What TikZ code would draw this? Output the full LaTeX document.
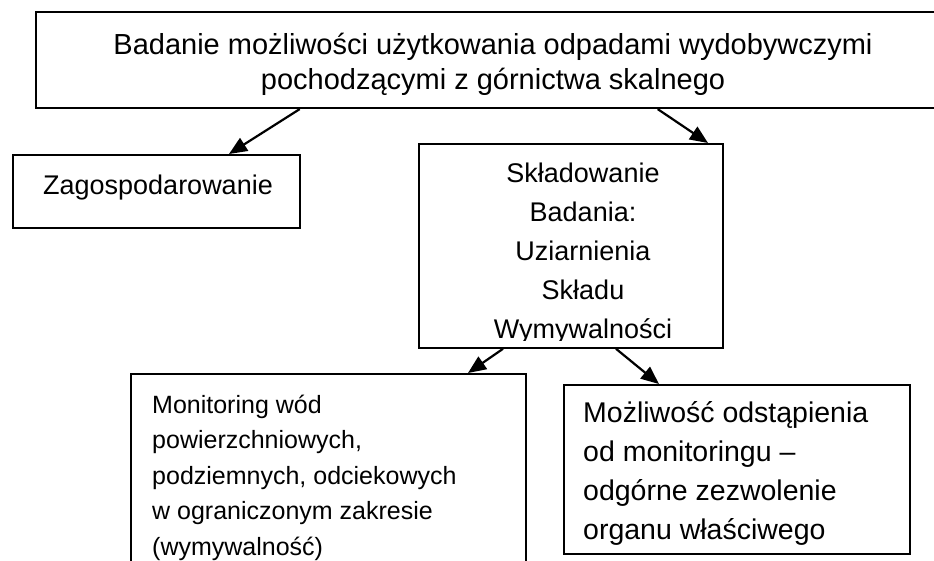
\documentclass[tikz,border=0pt]{standalone}
\usepackage{fontspec}
\setmainfont{Liberation Sans}
\usetikzlibrary{arrows.meta}
\begin{document}
\begin{tikzpicture}[x=1pt,y=-1pt,
  box/.style={draw,line width=1.8pt,rectangle,inner sep=0pt,anchor=north west},
  txt/.style={inner sep=0pt,anchor=base},
  ltxt/.style={inner sep=0pt,anchor=base west},
  arr/.style={line width=2.2pt,-{Triangle[length=18pt,width=15pt]}}]
\useasboundingbox (0,0) rectangle (934,560);
\clip (0,0) rectangle (934,560);
% boxes
\node[box,minimum width=930pt,minimum height=96pt] (top) at (34.7,11.3) {};
\node[box,minimum width=287pt,minimum height=73pt] (zag) at (12,154) {};
\node[box,minimum width=304pt,minimum height=204pt] (mid) at (418,143) {};
\node[box,minimum width=395pt,minimum height=220pt] (bl) at (130,373) {};
\node[box,minimum width=346pt,minimum height=169pt] (br) at (563,384) {};
% texts (a multi-line node sits on the baseline of its last line)
\node[txt,font=\fontsize{29}{35}\selectfont,align=center] (toptxt) at (493,89)
  {Badanie możliwości użytkowania odpadami wydobywczymi\\pochodzącymi z górnictwa skalnego};
\node[txt,font=\fontsize{27}{31}\selectfont] (zagtxt) at (158,194) {Zagospodarowanie};
\begin{scope}
  \clip (mid.north west) rectangle ([yshift=8pt]mid.south east);
  \node[txt,font=\fontsize{27}{39}\selectfont,align=center] (midtxt) at (583,338)
    {Składowanie\\Badania:\\Uziarnienia\\Składu\\Wymywalności};
\end{scope}
\node[ltxt,font=\fontsize{25}{35.5}\selectfont,align=left] (bltxt) at (152,555)
  {Monitoring wód\\powierzchniowych,\\podziemnych, odciekowych\\w ograniczonym zakresie\\(wymywalność)};
\node[ltxt,font=\fontsize{28.5}{39}\selectfont,align=left] (brtxt) at (583,539)
  {Możliwość odstąpienia\\od monitoringu –\\odgórne zezwolenie\\organu właściwego};
% connectors
\draw[arr] ([xshift=265pt]top.south west) -- ([xshift=217pt]zag.north west);
\draw[arr] ([xshift=623pt]top.south west) -- ([xshift=290pt]mid.north west);
\draw[arr] ([xshift=85pt]mid.south west) -- ([xshift=338pt]bl.north west);
\draw[arr] ([xshift=198pt]mid.south west) -- ([xshift=96pt]br.north west);
\end{tikzpicture}
\end{document}
